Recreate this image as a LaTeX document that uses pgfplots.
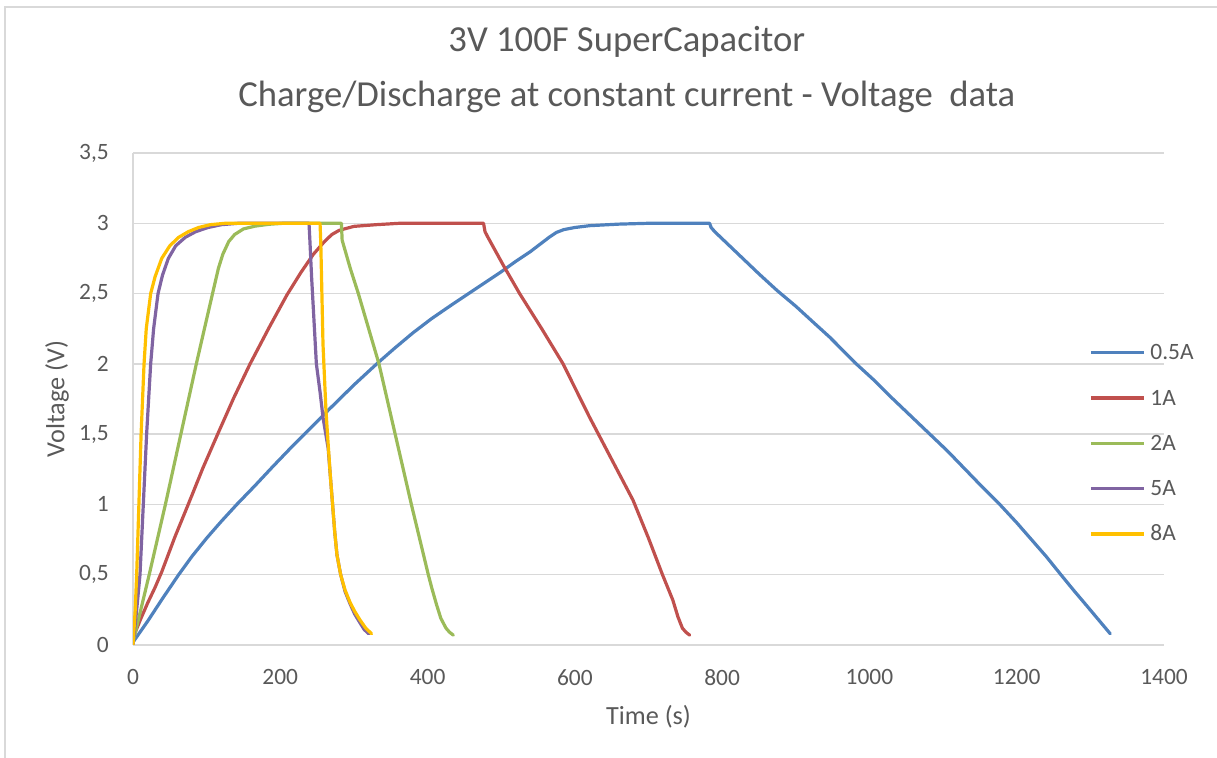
\documentclass[border=0pt]{standalone}
\usepackage{pgfplots}
\pgfplotsset{compat=1.18}
\usepackage{fontspec}
\setmainfont{Carlito}

\definecolor{txtgray}{HTML}{595959}
\definecolor{gridgray}{HTML}{D9D9D9}
\definecolor{frame}{HTML}{D9D9D9}
\definecolor{sblue}{HTML}{4F81BD}
\definecolor{sred}{HTML}{C0504D}
\definecolor{sgreen}{HTML}{9BBB59}
\definecolor{spurple}{HTML}{8064A2}
\definecolor{syellow}{HTML}{FFC000}

\begin{document}
\begin{tikzpicture}
  \path[use as bounding box] (0bp,0bp) rectangle (1217bp,758bp);
  % chart area frame (runs off the right and bottom edges)
  \draw[frame, line width=1.5bp] (5bp,-10bp) -- (5bp,751bp) -- (1230bp,751bp);
  \begin{axis}[
    at={(133bp,113bp)}, anchor=south west,
    scale only axis, width=1031bp, height=492bp,
    xmin=0, xmax=1400, ymin=0, ymax=3.5,
    xtick={0,200,...,1400}, ytick={0,0.5,...,3.5},
    axis x line*=bottom, axis y line*=left,
    axis line style={draw=gridgray, line width=1.5bp, -},
    major tick length=0pt,
    ymajorgrids, major grid style={draw=gridgray, line width=1.3bp},
    /pgf/number format/assume math mode=true,
    /pgf/number format/use comma,
    /pgf/number format/1000 sep={},
    ticklabel style={font=\fontsize{23.5}{28}\selectfont, text=txtgray},
    xticklabel style={inner sep=0pt, yshift=-24bp},
    yticklabel style={inner sep=0pt, xshift=-24bp},
    xlabel={Time (s)}, ylabel={Voltage (V)},
    label style={font=\fontsize{26.3}{30}\selectfont, text=txtgray},
    xlabel style={at={(axis description cs:0.5,-0.1463)}, anchor=center},
    ylabel style={at={(axis description cs:-0.0737,0.5)}, anchor=center, rotate=0},
    title={3V 100F SuperCapacitor\\Charge/Discharge at constant current - Voltage\ \ data},
    title style={at={(axis description cs:0.479,1.158)}, anchor=center, align=center,
      font=\fontsize{36.8}{55}\selectfont, text=txtgray},
    every axis plot/.append style={line width=3.2bp, line cap=round, line join=round, no markers},
    legend style={at={(axis description cs:0.9273,0.6107)}, anchor=north west,
      draw=none, fill=none, inner sep=0pt, row sep=30.3bp, column sep=5bp,
      nodes={inner sep=0pt, text height=15bp, text depth=0bp,
        font=\fontsize{23.5}{28}\selectfont, text=txtgray}},
    legend cell align=left,
    legend image code/.code={\draw[#1, line cap=butt] (0bp,-0.5bp) -- (53bp,-0.5bp);},
  ]
  % 0.5 A
  \addplot[sblue] coordinates {
    (0,0.02) (10,0.095) (20,0.17) (40,0.33) (62,0.5) (80,0.63) (100,0.76)
    (120,0.88) (141,1.0) (165,1.13) (190,1.27) (212,1.39) (233,1.5) (267,1.68)
    (300,1.85) (331,2.0) (355,2.11) (380,2.22) (405,2.32) (430,2.41) (450,2.48)
    (470,2.55) (500,2.655) (520,2.73) (540,2.80) (555,2.86) (565,2.90)
    (575,2.935) (585,2.955) (600,2.97) (620,2.983) (660,2.994) (700,3.0)
    (783,3.0) (785,2.97) (790,2.94) (820,2.79) (850,2.64) (875,2.52)
    (900,2.41) (925,2.29) (946,2.19) (965,2.09) (980,2.01) (1005,1.89)
    (1030,1.76) (1056,1.63) (1082,1.5) (1106,1.38) (1130,1.25) (1154,1.12)
    (1177,1.0) (1200,0.87) (1220,0.75) (1240,0.63) (1260,0.5) (1278,0.385)
    (1295,0.28) (1311,0.18) (1327,0.08)};
  % 1 A
  \addplot[sred] coordinates {
    (0,0.05) (10,0.18) (20,0.3) (30,0.41) (39,0.52) (57,0.77) (75,1.0)
    (95,1.26) (115,1.5) (137,1.76) (159,2.0) (185,2.26) (209,2.49) (228,2.65)
    (245,2.78) (260,2.87) (270,2.92) (280,2.95) (300,2.978) (330,2.99)
    (362,3.0) (476,3.0) (478,2.94) (482,2.90) (503,2.70) (525,2.5) (555,2.25)
    (584,2.0) (602,1.81) (620,1.62) (650,1.32) (679,1.03) (700,0.76)
    (719,0.5) (733,0.32) (740,0.2) (746,0.12) (751,0.09) (756,0.07)};
  % 2 A
  \addplot[sgreen] coordinates {
    (0,0.02) (11,0.26) (22,0.5) (44,1.0) (65,1.5) (86,2.0) (108,2.5) (116,2.68)
    (122,2.78) (130,2.87) (138,2.92) (150,2.96) (166,2.98) (185,2.993)
    (204,3.0) (283,3.0) (284,2.88) (295,2.68) (306,2.5) (320,2.25) (334,2.0)
    (356,1.5) (378,1.0) (401,0.5) (406,0.4) (412,0.29) (418,0.19) (425,0.12)
    (430,0.09) (435,0.07)};
  % 5 A
  \addplot[spurple] coordinates {
    (0,0) (5,0.25) (9.5,0.5) (14,1.0) (18.5,1.5) (24,2.0) (28,2.25) (34,2.5)
    (40,2.63) (48,2.75) (58,2.84) (71,2.9) (85,2.94) (102,2.97) (120,2.99)
    (143,3.0) (239,3.0) (240,2.9) (242.5,2.62) (249,2.0) (254,1.8) (258,1.62)
    (265,1.4) (268,1.2) (271,1.0) (274,0.8) (277,0.64) (282,0.5) (288,0.38)
    (295,0.29) (301,0.22) (308,0.16) (314,0.11) (320,0.08)};
  % 8 A
  \addplot[syellow] coordinates {
    (0,0) (3,0.25) (5,0.5) (8,1.0) (11,1.5) (15,2.0) (18,2.25) (24,2.5)
    (30,2.62) (39,2.75) (50,2.84) (62,2.9) (75,2.94) (89,2.97) (105,2.99)
    (125,3.0) (254,3.0) (255,2.86) (258,2.14) (262,1.67) (265,1.43) (268,1.2)
    (271,1.0) (274,0.8) (277,0.64) (282,0.5) (288,0.39) (295,0.3) (301,0.24)
    (308,0.18) (316,0.12) (324,0.08)};
  \legend{0.5A,1A,2A,5A,8A}
  \end{axis}
\end{tikzpicture}
\end{document}
